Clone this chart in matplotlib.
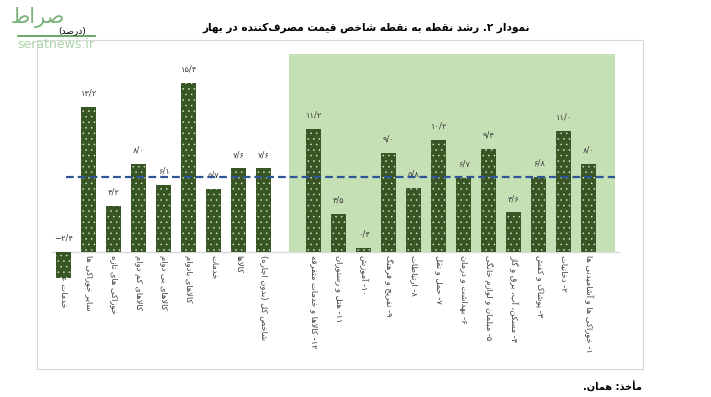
import re
import numpy as np
import matplotlib
matplotlib.use('Agg')
import matplotlib.pyplot as plt
from matplotlib.patches import Rectangle
from matplotlib.lines import Line2D

plt.rcParams['font.family'] = ['DejaVu Sans']
plt.rcParams['hatch.linewidth'] = 0.35

# ---- data ----
left_labels = ['خدمات عمومی', 'سایر خوراکی ها', 'خوراکی های تازه', 'کالاهای کم دوام',
               'کالاهای بی دوام', 'کالاهای بادوام', 'خدمات', 'کالاها', 'شاخص کل (بدون اجاره)']
left_values = [-2.4, 13.2, 4.2, 8.0, 6.1, 15.4, 5.7, 7.6, 7.6]

right_labels = ['۱۲- کالاها و خدمات متفرقه', '۱۱- هتل و رستوران', '۱۰- آموزش',
                '۹- تفریح و فرهنگ', '۸- ارتباطات', '۷- حمل و نقل', '۶- بهداشت و درمان',
                '۵- مبلمان و لوازم خانگی', '۴- مسکن، آب، برق و گاز', '۳- پوشاک و کفش',
                '۲- دخانیات', '۱- خوراکی ها و آشامیدنی ها']
right_values = [11.2, 3.5, 0.4, 9.0, 5.8, 10.2, 6.7, 9.4, 3.6, 6.8, 11.0, 8.0]

avg_line = 6.8

title = 'نمودار ۲. رشد نقطه به نقطه شاخص قیمت مصرف\u200cکننده در بهار'
unit = '(درصد)'
source = 'مأخذ: همان.'

# ---- minimal persian shaping (matplotlib has no bidi/shaping) ----
def _d(b):
    return tuple(range(b, b + 4))

def _r(b):
    return (b, b + 1)

FORMS = {
    'ء': (0xFE80,), 'آ': _r(0xFE81), 'أ': _r(0xFE83), 'ؤ': _r(0xFE85), 'إ': _r(0xFE87),
    'ئ': _d(0xFE89), 'ا': _r(0xFE8D), 'ب': _d(0xFE8F), 'ة': _r(0xFE93), 'ت': _d(0xFE95),
    'ث': _d(0xFE99), 'ج': _d(0xFE9D), 'ح': _d(0xFEA1), 'خ': _d(0xFEA5), 'د': _r(0xFEA9),
    'ذ': _r(0xFEAB), 'ر': _r(0xFEAD), 'ز': _r(0xFEAF), 'س': _d(0xFEB1), 'ش': _d(0xFEB5),
    'ص': _d(0xFEB9), 'ض': _d(0xFEBD), 'ط': _d(0xFEC1), 'ظ': _d(0xFEC5), 'ع': _d(0xFEC9),
    'غ': _d(0xFECD), 'ف': _d(0xFED1), 'ق': _d(0xFED5), 'ك': _d(0xFED9), 'ل': _d(0xFEDD),
    'م': _d(0xFEE1), 'ن': _d(0xFEE5), 'ه': _d(0xFEE9), 'و': _r(0xFEED), 'ى': _r(0xFEEF),
    'ي': _d(0xFEF1), 'پ': _d(0xFB56), 'چ': _d(0xFB7A), 'ژ': _r(0xFB8A), 'ک': _d(0xFB8E),
    'گ': _d(0xFB92), 'ی': _d(0xFBFC),
}


def _jt(c):
    f = FORMS.get(c)
    return 0 if f is None else len(f)


def fa(text):
    chars = list(text)
    n = len(chars)
    out = []
    i = 0
    while i < n:
        c = chars[i]
        if c == '\u200c':
            i += 1
            continue
        jc = _jt(c)
        if jc < 2:
            out.append(chr(FORMS[c][0]) if jc == 1 else c)
            i += 1
            continue
        prev = chars[i - 1] if i > 0 else None
        nxt = chars[i + 1] if i + 1 < n else None
        can_prev = prev is not None and _jt(prev) == 4
        if c == 'ل' and nxt in ('ا', 'آ'):
            base = 0xFEFB if nxt == 'ا' else 0xFEF5
            out.append(chr(base + (1 if can_prev else 0)))
            i += 2
            continue
        can_next = jc == 4 and nxt is not None and _jt(nxt) >= 2
        if can_prev and can_next:
            k = 3
        elif can_prev:
            k = 1
        elif can_next:
            k = 2
        else:
            k = 0
        out.append(chr(FORMS[c][k]))
        i += 1
    shaped = ''.join(out)
    tokens = re.findall(r'[0-9\u06F0-\u06F9]+(?:[/.][0-9\u06F0-\u06F9]+)*|.', shaped)
    mirror = {'(': ')', ')': '('}
    return ''.join(mirror.get(t, t) for t in reversed(tokens))


def fa_num(v):
    s = f'{abs(v):.1f}'.replace('.', '/')
    s = s.translate(str.maketrans('0123456789', '۰۱۲۳۴۵۶۷۸۹'))
    return ('−' + s) if v < 0 else s


# ---- layout ----
labels = left_labels + right_labels
values = left_values + right_values
x_pos = np.r_[np.arange(len(left_values)), np.arange(len(right_values)) + len(left_values) + 1]

bar_color = '#375623'
text_color = '#404040'
y_top = 18

fig = plt.figure(figsize=(7.11, 3.97), dpi=100, facecolor='white')
ax = fig.add_axes([0.0731, 0.2987, 0.7989, 0.5652])
ax.set_facecolor('none')

# outer frame
fig.patches.append(Rectangle((37 / 711, 28 / 397), 606 / 711, 329 / 397, transform=fig.transFigure,
                             fill=False, edgecolor='#d9d9d9', linewidth=0.8, zorder=0))

# shaded group (from the baseline up)
ax.add_patch(Rectangle((len(left_values), 0), x_pos[-1] + 1.04 - len(left_values), y_top,
                       facecolor='#c5e0b4', edgecolor='none', zorder=0))
ax.axhline(0, color='#d9d9d9', linewidth=1.0, zorder=1)

ax.bar(x_pos, values, width=0.6, color=bar_color, edgecolor='#dfe9d4', linewidth=0,
       hatch='...', zorder=3)
ax.hlines(avg_line, 0.1, x_pos[-1] + 1.04, colors='#2f5597', linestyles=(0, (3.5, 1.8)),
          linewidth=1.6, zorder=4)

for xi, v, lab in zip(x_pos, values, labels):
    ax.annotate(fa_num(v), (xi, max(v, 0)), xytext=(0, 10), textcoords='offset points',
                ha='center', va='center', fontsize=6, color=text_color)
    ax.annotate(fa(lab), (xi, 0), xytext=(0, -2.5), textcoords='offset points',
                rotation=270, rotation_mode='anchor', ha='left', va='center',
                fontsize=6, color=text_color, zorder=1, annotation_clip=False)

ax.set_xlim(-0.48, 22.24)
ax.set_ylim(-2.4, y_top)
ax.set_xticks([])
ax.set_yticks([])
for s in ax.spines.values():
    s.set_visible(False)

fig.text(366 / 711, 1 - 28 / 397, fa(title), ha='center', va='center', fontsize=7.6,
         fontweight='bold', color='black')
fig.text(642 / 711, 1 - 387 / 397, fa(source), ha='right', va='center', fontsize=7,
         fontweight='bold', color='black')

# watermark / unit label
fig.text(72 / 711, 1 - 31 / 397, fa(unit), ha='center', va='center', fontsize=6.5, color='black')
fig.lines.append(Line2D([18 / 711, 95 / 711], [1 - 36 / 397] * 2, transform=fig.transFigure,
                        color='#4e9a4e', linewidth=1.2))
fig.text(38 / 711, 1 - 17 / 397, fa('صراط'), ha='center', va='center', fontsize=15,
         color='#5aa05a', alpha=0.8)
fig.text(56 / 711, 1 - 45 / 397, 'seratnews.ir', ha='center', va='center', fontsize=9,
         color='#a8d5a8')

fig.savefig('out.png', dpi=100, facecolor='white')
